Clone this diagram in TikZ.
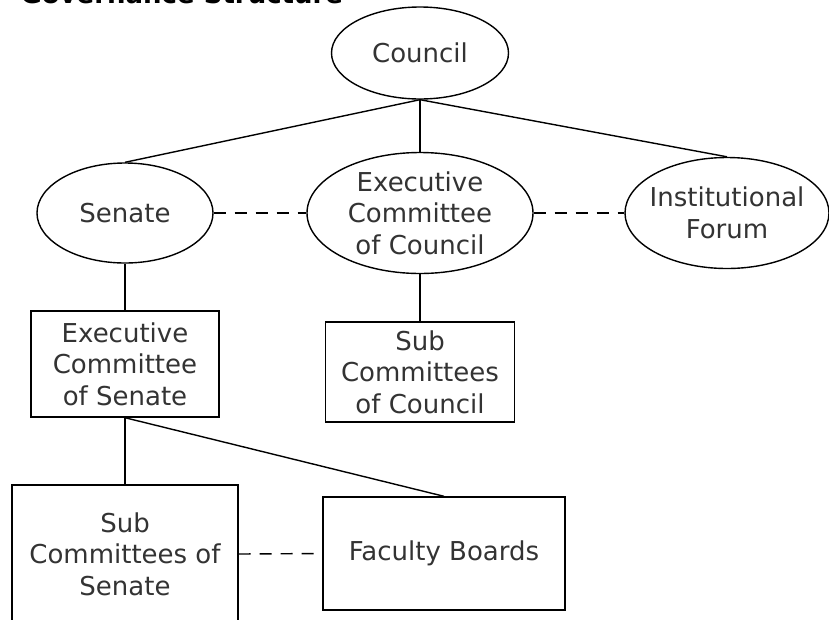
\documentclass[tikz,border=0pt]{standalone}
\usepackage{fontspec}
\setmainfont{DejaVu Sans}
\usetikzlibrary{shapes.geometric}

\tikzset{
  oval/.style={draw,ellipse,line width=1.4pt,inner sep=0pt},
  unit/.style={draw,rectangle,line width=1.4pt,inner sep=0pt,align=center,
    text=black!80,font=\fontsize{26}{31.5}\selectfont},
  txt/.style={align=center,text=black!80,font=\fontsize{26}{31.5}\selectfont},
  link/.style={line width=1.4pt},
  peer/.style={line width=1.4pt,dash pattern=on 12pt off 9pt}
}

\begin{document}
\begin{tikzpicture}[x=1pt,y=-1pt]
  \useasboundingbox (0,0) rectangle (829,619);
  \node[anchor=base west,font=\bfseries\fontsize{26}{31}\selectfont] (title) at (17,3.5) {Governance Structure};

  % top level
  \node[oval,minimum width=177pt,minimum height=92pt,
    label={[txt]center:Council}] (council) at (420,53) {};
  \node[oval,minimum width=176pt,minimum height=100pt,
    label={[txt]center:Senate}] (senate) at (125,213) {};
  \node[oval,minimum width=226pt,minimum height=121pt,
    label={[txt]center:Executive\\Committee\\of Council}] (excouncil) at (420,213) {};
  \node[oval,minimum width=204pt,minimum height=111pt,
    label={[txt]center:Institutional\\Forum}] (forum) at (727,213) {};

  % committees
  \node[unit,minimum width=188pt,minimum height=106pt] (exsenate) at (125,364) {Executive\\Committee\\of Senate};
  \node[unit,minimum width=189pt,minimum height=100pt] (subcouncil) at (420,372) {Sub\\Committees\\of Council};
  \node[unit,minimum width=226pt,minimum height=138pt] (subsenate) at (125,554) {Sub\\Committees of\\Senate};
  \node[unit,minimum width=242pt,minimum height=113pt] (faculty) at (444,553.5) {Faculty Boards};

  \draw[link] (council.south) -- (senate.north);
  \draw[link] (council.south) -- (excouncil.north);
  \draw[link] (council.south) -- (forum.north);
  \draw[peer] (senate.east) -- (excouncil.west);
  \draw[peer] (excouncil.east) -- (forum.west);
  \draw[link] (senate.south) -- (exsenate.north);
  \draw[link] (excouncil.south) -- (subcouncil.north);
  \draw[link] (exsenate.south) -- (subsenate.north);
  \draw[link] (exsenate.south) -- (faculty.north);
  \draw[peer] (subsenate.east) -- (faculty.west);
\end{tikzpicture}
\end{document}
